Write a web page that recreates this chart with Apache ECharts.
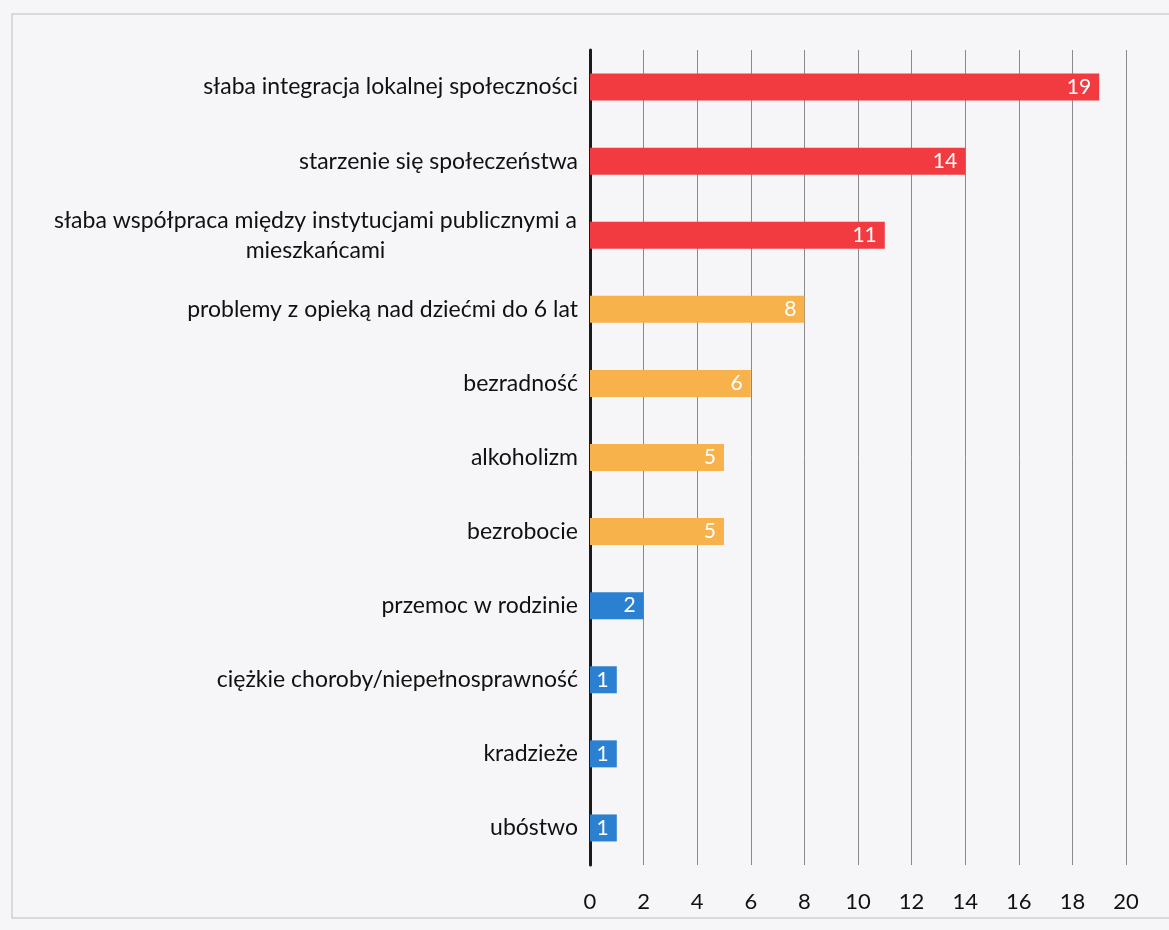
<!DOCTYPE html>
<html><head><meta charset="utf-8">
<script src="https://cdn.jsdelivr.net/npm/echarts@6/dist/echarts.min.js"></script>
<style>html,body{margin:0;padding:0;background:#f6f5f7}#c{width:1169px;height:930px}</style>
</head><body><div id="c"></div>
<script>
const categories = [
  "słaba integracja lokalnej społeczności",
  "starzenie się społeczeństwa",
  "słaba współpraca między instytucjami publicznymi a\nmieszkańcami",
  "problemy z opieką nad dziećmi do 6 lat",
  "bezradność",
  "alkoholizm",
  "bezrobocie",
  "przemoc w rodzinie",
  "ciężkie choroby/niepełnosprawność",
  "kradzieże",
  "ubóstwo"
];
const values = [19, 14, 11, 8, 6, 5, 5, 2, 1, 1, 1];
const groupColors = ["#f23b40","#f23b40","#f23b40","#f8b24c","#f8b24c","#f8b24c","#f8b24c","#2b80d2","#2b80d2","#2b80d2","#2b80d2"];
const xTicks = [0,2,4,6,8,10,12,14,16,18,20];

const FONT = 'Lato, "Open Sans", sans-serif';
const LSIZE = 23;
const ctx = document.createElement('canvas').getContext('2d');
ctx.font = LSIZE + 'px ' + FONT;
const maxLineW = Math.ceil(Math.max(...categories.filter(c => c.includes('\n')).flatMap(c => c.split('\n')).map(l => ctx.measureText(l).width))) + 2;

const chart = echarts.init(document.getElementById('c'));
chart.setOption({
  backgroundColor: '#f6f5f7',
  animation: false,
  graphic: [{type:'rect', shape:{x:12,y:14,width:1170,height:904}, style:{fill:'none', stroke:'#cfcfcf', lineWidth:1.5}, silent:true}],
  grid: {left: 590, right: 43, top: 50, bottom: 65, containLabel: false},
  xAxis: {
    type: 'value', min: 0, max: 20, interval: 2,
    axisLine: {show: false}, axisTick: {show: false},
    splitLine: {show: true, lineStyle: {color: '#8a8a8a', width: 1}},
    axisLabel: {margin: 26, fontFamily: FONT, fontSize: 22, color: '#111',
      formatter: v => xTicks.includes(v) ? String(v) : ''}
  },
  yAxis: {
    type: 'category', data: categories, inverse: true,
    axisLine: {show: true, lineStyle: {color: '#1a1a1a', width: 3}},
    axisTick: {show: false},
    axisLabel: {
      margin: 12, fontFamily: FONT, fontSize: LSIZE, color: '#111', lineHeight: 30,
      formatter: v => v.indexOf('\n') >= 0 ? v.split('\n').map(l => '{w|' + l + '}').join('\n') : v,
      rich: {w: {width: maxLineW, align: 'center', fontFamily: FONT, fontSize: LSIZE, color: '#111', lineHeight: 30}}
    }
  },
  series: [{
    type: 'bar', data: values.map((v, i) => ({value: v, itemStyle: {color: groupColors[i]}})),
    barWidth: 27,
    label: {show: true, position: 'insideRight', color: '#fff', fontFamily: FONT, fontSize: 21, distance: 8}
  }]
});
</script></body></html>
